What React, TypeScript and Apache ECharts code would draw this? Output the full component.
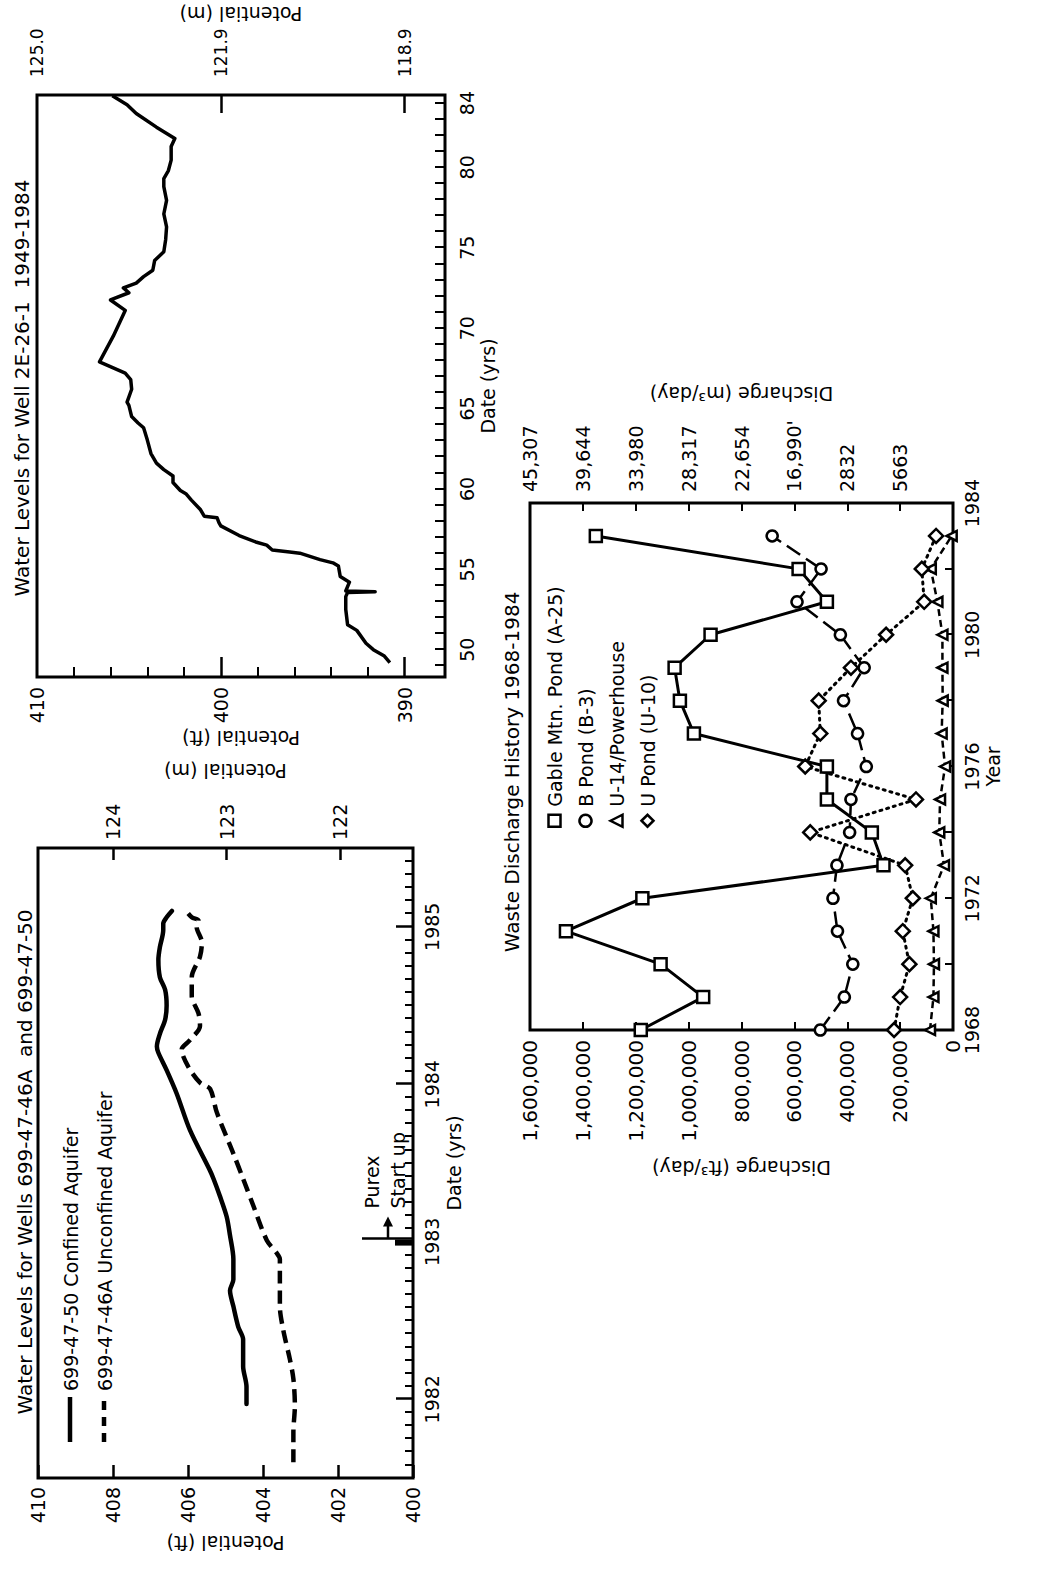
import React, { useEffect, useRef } from 'react';
import * as echarts from 'echarts';

const FONT = 'DejaVu Sans';
const BLACK = '#000';

// ---------- Chart A: Water Levels for Well 2E-26-1 1949-1984 ----------
const wellA_year = [49.2, 49.6, 50.0, 50.4, 51.2, 51.55, 52.5, 53.3, 53.55, 53.6, 53.65, 54.2, 54.55, 55.2, 55.4, 55.6, 56.0, 56.07, 56.2, 56.5, 56.7, 57.1, 57.7, 57.9, 58.2, 58.3, 58.7, 59.3, 59.7, 59.9, 60.4, 60.8, 61.2, 61.6, 62.2, 63.05, 63.8, 64.1, 64.5, 65.2, 65.4, 66.2, 66.8, 67.2, 67.9, 69.5, 71.1, 71.75, 72.2, 72.5, 72.8, 73.2, 73.6, 74.2, 74.75, 75.5, 76.3, 77.1, 77.95, 78.8, 79.3, 79.8, 80.45, 81.3, 81.8, 82.5, 83.35, 83.9, 84.45];
const wellA_ft = [390.8, 391.1, 391.7, 392.1, 392.6, 393.1, 393.2, 393.2, 393.1, 391.6, 393.2, 393.0, 393.5, 393.6, 393.9, 394.6, 395.7, 396.25, 397.2, 397.5, 398.1, 399.0, 400.0, 400.1, 400.2, 400.9, 401.1, 401.6, 401.9, 402.2, 402.6, 402.6, 403.1, 403.5, 403.8, 404.0, 404.2, 404.5, 404.85, 405.0, 405.1, 404.85, 404.9, 405.2, 406.6, 405.85, 405.2, 406.0, 405.0, 405.3, 404.6, 404.2, 403.7, 403.6, 403.1, 403.0, 402.95, 403.1, 402.95, 403.1, 403.1, 402.85, 402.7, 402.7, 402.5, 403.5, 404.6, 405.1, 405.9];
const wellA_dateLabels = [50, 55, 60, 65, 70, 75, 80, 84];
const wellA_ftLabels = [390, 400, 410];
const wellA_mLabels = ['118.9', '121.9', '125.0'];

// ---------- Chart B: Wells 699-47-46A and 699-47-50 ----------
const confined_year = [1981.97, 1982.08, 1982.21, 1982.38, 1982.46, 1982.59, 1982.69, 1982.76, 1982.89, 1983.04, 1983.16, 1983.29, 1983.40, 1983.46, 1983.71, 1983.94, 1984.09, 1984.20, 1984.24, 1984.32, 1984.41, 1984.50, 1984.60, 1984.68, 1984.79, 1984.87, 1984.98, 1985.02, 1985.06, 1985.10];
const confined_ft = [404.44, 404.44, 404.53, 404.53, 404.66, 404.79, 404.88, 404.79, 404.79, 404.88, 404.97, 405.15, 405.32, 405.43, 405.95, 406.3, 406.57, 406.79, 406.83, 406.75, 406.61, 406.57, 406.61, 406.75, 406.79, 406.75, 406.66, 406.66, 406.57, 406.43];
const unconfined_year = [1981.60, 1981.79, 1981.96, 1982.13, 1982.25, 1982.44, 1982.59, 1982.76, 1982.89, 1982.93, 1983.01, 1983.23, 1983.40, 1983.56, 1983.82, 1983.97, 1984.01, 1984.11, 1984.22, 1984.28, 1984.37, 1984.45, 1984.56, 1984.68, 1984.81, 1984.90, 1985.00, 1985.04, 1985.06, 1985.11];
const unconfined_ft = [403.19, 403.19, 403.15, 403.19, 403.28, 403.46, 403.55, 403.55, 403.55, 403.64, 403.9, 404.26, 404.53, 404.79, 405.23, 405.41, 405.68, 405.99, 406.17, 405.95, 405.68, 405.72, 405.9, 405.9, 405.68, 405.63, 405.77, 405.72, 405.9, 406.08];
const wellsB_yearLabels = [1982, 1983, 1984, 1985];
const wellsB_mLabels = [122, 123, 124];
const purexStartYear = 1983.02;

// ---------- Chart C: Waste Discharge History 1968-1984 ----------
const dischargeYears = [1968, 1969, 1970, 1971, 1972, 1973, 1974, 1975, 1976, 1977, 1978, 1979, 1980, 1981, 1982, 1983];
const gablePond = [1181000, 945000, 1106000, 1464000, 1175000, 263000, 307000, 477000, 477000, 980000, 1033000, 1053000, 917000, 477000, 584000, 1351000];
const bPond = [502000, 411000, 379000, 437000, 454000, 439000, 391000, 386000, 328000, 361000, 414000, 336000, 426000, 590000, 499000, 684000];
const u14Powerhouse = [87000, 74000, 72000, 74000, 84000, 34000, 52000, 49000, 30000, 43000, 39000, 40000, 40000, 59000, 84000, 5000];
const uPond = [223000, 200000, 165000, 190000, 152000, 181000, 540000, 140000, 559000, 502000, 508000, 386000, 253000, 109000, 118000, 64000];
const yearLabelsC = [1968, 1972, 1976, 1980, 1984];
const dischargeTicks = [200000, 400000, 600000, 800000, 1000000, 1200000, 1400000, 1600000];
const m3Labels = ['5663', '2832', "16,990'", '22,654', '28,317', '33,980', '39,644', '45,307'];

const zip = (xs: number[], ys: number[]) => xs.map((x, i) => [x, ys[i]]);
const commas = (v: number) => String(v).replace(/\B(?=(\d{3})+(?!\d))/g, ',');

const tick = (len: number, w = 2) => ({ show: true, inside: true, length: len, lineStyle: { color: BLACK, width: w } });
const noLine = { show: false };
const noSplit = { show: false };
const nameStyle = { fontSize: 19, color: BLACK, fontFamily: FONT };
const lab = (extra: any) => ({ color: BLACK, fontSize: 19, fontFamily: FONT, ...extra });

function buildOption() {
  const yearTicksA: number[] = [];
  for (let y = 49; y <= 84; y++) yearTicksA.push(y);
  const monthTicksB: number[] = [];
  for (let k = 1; k < 48; k++) if (k % 12 !== 6) monthTicksB.push(1981.5 + k / 12);

  const gridBase = { show: true, borderColor: BLACK, borderWidth: 3, backgroundColor: 'transparent', containLabel: false };

  return {
    animation: false,
    backgroundColor: '#fff',
    textStyle: { fontFamily: FONT, color: BLACK },
    grid: [
      { ...gridBase, left: 893, top: 37, width: 582, height: 408 },
      { ...gridBase, left: 92, top: 38, width: 630, height: 375 },
      { ...gridBase, left: 540, top: 530, width: 527, height: 423 },
    ],
    xAxis: [
      {
        gridIndex: 0, type: 'value', min: 48.3, max: 84.5, position: 'bottom',
        axisLine: noLine, splitLine: noSplit,
        axisTick: { ...tick(10), customValues: yearTicksA },
        axisLabel: lab({ customValues: wellA_dateLabels, formatter: (v: number) => String(v), margin: 12 }),
        name: 'Date (yrs)', nameLocation: 'middle', nameGap: 33, nameTextStyle: nameStyle,
      },
      {
        gridIndex: 1, type: 'value', min: 1981.5, max: 1985.5, position: 'bottom',
        axisLine: noLine, splitLine: noSplit,
        axisTick: { ...tick(8), customValues: monthTicksB },
        axisLabel: { show: false },
      },
      {
        gridIndex: 1, type: 'value', min: 1981.5, max: 1985.5, position: 'bottom',
        axisLine: noLine, splitLine: noSplit,
        axisTick: { ...tick(17, 2.5), customValues: wellsB_yearLabels },
        axisLabel: lab({ customValues: wellsB_yearLabels, formatter: (v: number) => String(v), margin: 9 }),
        name: 'Date (yrs)', nameLocation: 'middle', nameGap: 31, nameTextStyle: nameStyle,
      },
      {
        gridIndex: 2, type: 'value', min: 1968, max: 1984, interval: 2, position: 'bottom',
        axisLine: noLine, splitLine: noSplit,
        axisTick: tick(8),
        axisLabel: lab({ customValues: yearLabelsC, formatter: (v: number) => String(v), margin: 9 }),
        name: 'Year', nameLocation: 'middle', nameGap: 30, nameTextStyle: nameStyle,
      },
    ],
    yAxis: [
      {
        gridIndex: 0, type: 'value', min: 387.8, max: 410, position: 'left',
        axisLine: noLine, splitLine: noSplit,
        axisTick: { ...tick(20, 2.5), customValues: [390, 400] },
        axisLabel: lab({ customValues: wellA_ftLabels, formatter: (v: number) => String(v), margin: 10 }),
        name: 'Potential (ft)', nameLocation: 'middle', nameRotate: 90, nameGap: 51, nameTextStyle: nameStyle,
      },
      {
        gridIndex: 0, type: 'value', min: 387.8, max: 410, position: 'left',
        axisLine: noLine, splitLine: noSplit,
        axisTick: { ...tick(10), customValues: [392, 394, 396, 398, 402, 404, 406, 408] },
        axisLabel: { show: false },
      },
      {
        gridIndex: 0, type: 'value', min: 387.8, max: 410, position: 'right',
        axisLine: noLine, splitLine: noSplit,
        axisTick: { ...tick(18, 2.5), customValues: [390, 400] },
        axisLabel: lab({
          customValues: wellA_ftLabels,
          formatter: (v: number) => wellA_mLabels[wellA_ftLabels.indexOf(v)] ?? '',
          margin: 18, fontSize: 17,
        }),
      },
      {
        gridIndex: 1, type: 'value', min: 400, max: 410, interval: 2, position: 'left',
        axisLine: noLine, splitLine: noSplit,
        axisTick: tick(13, 2.5),
        axisLabel: lab({ formatter: (v: number) => String(v), margin: 9 }),
        name: 'Potential (ft)', nameLocation: 'middle', nameRotate: 90, nameGap: 55, nameTextStyle: nameStyle,
      },
      {
        gridIndex: 1, type: 'value', min: 121.356, max: 124.664, position: 'right',
        axisLine: noLine, splitLine: noSplit,
        axisTick: { ...tick(12, 2.5), customValues: wellsB_mLabels },
        axisLabel: lab({ customValues: wellsB_mLabels, formatter: (v: number) => String(v), margin: 8 }),
        name: 'Potential (m)', nameLocation: 'middle', nameRotate: 90, nameGap: 68, nameTextStyle: nameStyle,
      },
      {
        gridIndex: 2, type: 'value', min: 0, max: 1600000, interval: 200000, position: 'left',
        axisLine: noLine, splitLine: noSplit,
        axisTick: tick(8),
        axisLabel: lab({ formatter: (v: number) => commas(v), margin: 10, fontSize: 20 }),
        name: 'Discharge (ft³/day)', nameLocation: 'middle', nameRotate: 90, nameGap: 128, nameTextStyle: nameStyle,
      },
      {
        gridIndex: 2, type: 'value', min: 0, max: 1600000, position: 'right',
        axisLine: noLine, splitLine: noSplit,
        axisTick: { ...tick(8), customValues: dischargeTicks },
        axisLabel: lab({
          customValues: dischargeTicks,
          formatter: (v: number) => m3Labels[dischargeTicks.indexOf(v)] ?? '',
          margin: 11,
        }),
        name: 'Discharge (m³/day)', nameLocation: 'middle', nameRotate: 90, nameGap: 100, nameTextStyle: nameStyle,
      },
    ],
    legend: [
      {
        show: true, orient: 'vertical', left: 742, top: 545, padding: 0,
        itemWidth: 12, itemHeight: 12, itemGap: 12,
        selectedMode: false,
        textStyle: { fontSize: 19, color: BLACK, fontFamily: FONT, padding: [0, 0, 0, 3] },
        data: [
          { name: 'Gable Mtn. Pond (A-25)', icon: 'rect', itemStyle: { color: '#fff', borderColor: BLACK, borderWidth: 2.5 } },
          { name: 'B Pond (B-3)', icon: 'circle', itemStyle: { color: '#fff', borderColor: BLACK, borderWidth: 2.5 } },
          { name: 'U-14/Powerhouse', icon: 'triangle', itemStyle: { color: '#fff', borderColor: BLACK, borderWidth: 2.5 } },
          { name: 'U Pond (U-10)', icon: 'diamond', itemStyle: { color: '#fff', borderColor: BLACK, borderWidth: 2.5 } },
        ],
      },
    ],
    series: [
      {
        type: 'line', name: 'Well 2E-26-1', xAxisIndex: 0, yAxisIndex: 0,
        data: zip(wellA_year, wellA_ft), symbol: 'none', showSymbol: false,
        lineStyle: { color: BLACK, width: 3.5, join: 'round' },
      },
      {
        type: 'line', name: '699-47-50 Confined Aquifer', xAxisIndex: 2, yAxisIndex: 3,
        data: zip(confined_year, confined_ft), symbol: 'none', showSymbol: false, smooth: 0.3,
        lineStyle: { color: BLACK, width: 4.5, cap: 'round' },
      },
      {
        type: 'line', name: '699-47-46A Unconfined Aquifer', xAxisIndex: 2, yAxisIndex: 3,
        data: zip(unconfined_year, unconfined_ft), symbol: 'none', showSymbol: false, smooth: 0.3,
        lineStyle: { color: BLACK, width: 4.5, type: [13, 7] },
      },
      {
        type: 'line', name: 'Gable Mtn. Pond (A-25)', xAxisIndex: 3, yAxisIndex: 5,
        data: zip(dischargeYears, gablePond), symbol: 'rect', symbolSize: 12,
        itemStyle: { color: '#fff', borderColor: BLACK, borderWidth: 2.5 },
        lineStyle: { color: BLACK, width: 3 },
      },
      {
        type: 'line', name: 'B Pond (B-3)', xAxisIndex: 3, yAxisIndex: 5,
        data: zip(dischargeYears, bPond), symbol: 'circle', symbolSize: 11,
        itemStyle: { color: '#fff', borderColor: BLACK, borderWidth: 2.5 },
        lineStyle: { color: BLACK, width: 2.5, type: [16, 7] },
      },
      {
        type: 'line', name: 'U-14/Powerhouse', xAxisIndex: 3, yAxisIndex: 5,
        data: zip(dischargeYears, u14Powerhouse), symbol: 'triangle', symbolSize: 10,
        itemStyle: { color: '#fff', borderColor: BLACK, borderWidth: 2.5 },
        lineStyle: { color: BLACK, width: 2.5, type: [7, 4] },
      },
      {
        type: 'line', name: 'U Pond (U-10)', xAxisIndex: 3, yAxisIndex: 5,
        data: zip(dischargeYears, uPond), symbol: 'diamond', symbolSize: 14,
        itemStyle: { color: '#fff', borderColor: BLACK, borderWidth: 2.5 },
        lineStyle: { color: BLACK, width: 3, type: [2, 5], cap: 'round' },
      },
    ],
  };
}

const txt = (x: number, y: number, text: string, fontSize: number, align = 'left', rotation = 0) => ({
  type: 'text', x, y, rotation, silent: true,
  style: { text, fill: BLACK, fontSize, fontFamily: FONT, align, verticalAlign: 'middle' },
});

export default function App() {
  const ref = useRef<HTMLDivElement>(null);
  useEffect(() => {
    document.body.style.margin = '0';
    const el = ref.current!;
    const chart = echarts.init(el, null, { renderer: 'svg', width: 1570, height: 1044 });
    chart.setOption(buildOption() as any);

    const p = chart.convertToPixel({ seriesIndex: 1 } as any, [purexStartYear, 400]) as number[];
    const px = p[0];
    const py = p[1];
    const graphics: any[] = [
      txt(1182, 22, 'Water Levels for Well 2E-26-1  1949-1984', 20, 'center'),
      txt(408, 25, 'Water Levels for Wells 699-47-46A  and 699-47-50', 20, 'center'),
      txt(798, 512, 'Waste Discharge History 1968-1984', 20, 'center'),
      // right-axis name of chart A
      txt(1556, 241, 'Potential (m)', 19, 'center', Math.PI / 2),
      // legend for chart B
      { type: 'line', silent: true, shape: { x1: 128, y1: 70, x2: 173, y2: 70 }, style: { stroke: BLACK, lineWidth: 4.5 } },
      { type: 'line', silent: true, shape: { x1: 128, y1: 104, x2: 173, y2: 104 }, style: { stroke: BLACK, lineWidth: 4.5, lineDash: [9, 7] } },
      txt(179, 71, '699-47-50 Confined Aquifer', 19),
      txt(179, 105, '699-47-46A Unconfined Aquifer', 19),
      // Purex start up annotation
      { type: 'line', silent: true, shape: { x1: px, y1: py - 51, x2: px, y2: py }, style: { stroke: BLACK, lineWidth: 2.5 } },
      { type: 'line', silent: true, shape: { x1: px, y1: py - 25, x2: px + 14, y2: py - 25 }, style: { stroke: BLACK, lineWidth: 2.5 } },
      { type: 'polygon', silent: true, shape: { points: [[px + 22, py - 25], [px + 12, py - 30], [px + 12, py - 20]] }, style: { fill: BLACK } },
      { type: 'rect', silent: true, shape: { x: px - 7, y: py - 18, width: 6, height: 18 }, style: { fill: BLACK } },
      txt(px + 30, py - 41, 'Purex', 19),
      txt(px + 30, py - 15, 'Start up', 19),
    ];
    chart.setOption({ graphic: graphics } as any);
    return () => chart.dispose();
  }, []);
  return (
    <div style={{ position: 'relative', width: 1044, height: 1570, overflow: 'hidden', background: '#fff' }}>
      <div
        ref={ref}
        style={{
          position: 'absolute', left: 0, top: 0, width: 1570, height: 1044,
          transformOrigin: '0 0', transform: 'translateY(1570px) rotate(-90deg)',
        }}
      />
    </div>
  );
}
